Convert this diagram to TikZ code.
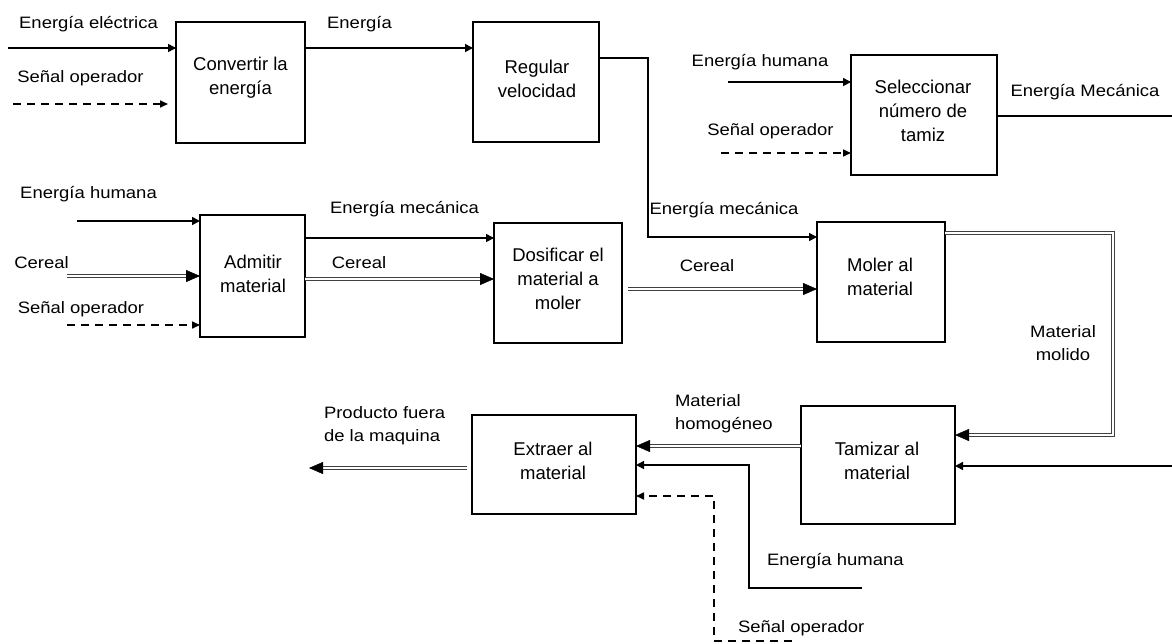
\documentclass[tikz,border=0pt]{standalone}
\usepackage{fontspec}
\setmainfont{Liberation Sans}
\newfontfamily\lblfont{Liberation Sans}[FakeStretch=1.12]
\usetikzlibrary{arrows.meta,decorations.markings}

\begin{document}
\begin{tikzpicture}[x=1pt, y=-1pt,
  every node/.style={inner sep=0pt, outer sep=0pt},
  blk/.style={draw=black, line width=2pt, rectangle},
  blktext/.style={font=\fontsize{18.5}{24}\selectfont, align=center},
  lbl/.style={font=\lblfont\fontsize{16.5}{23}\selectfont, align=center},
  lblL/.style={font=\lblfont\fontsize{16.5}{23}\selectfont, align=left},
  flowline/.style={line width=1.6pt},
  flow/.style={flowline, -{Triangle[length=8pt,width=8pt]}},
  signal/.style={line width=1.6pt, dash pattern=on 8pt off 6pt, -{Triangle[length=8pt,width=7pt]}},
  % material flow: double line with a solid filled head
  mat/.style={draw=black!75, double=white, double distance=1.6pt, line width=1.1pt,
              shorten >=7pt,
              postaction={decorate, decoration={markings,
                mark=at position 1 with {\arrow[black, line width=0.4pt]{Triangle[length=14pt,width=12pt]}}}}}
]
% canvas
\path[fill=white, use as bounding box] (0,0) rectangle (1172,643);

% ---- function blocks ----
\node[blk, minimum width=129pt, minimum height=121pt] (conv) at (240.5,82.5) {};
\node[blktext] (convT) at (240.5,78) {Convertir la\\energía};

\node[blk, minimum width=126pt, minimum height=120pt] (reg) at (536,82) {};
\node[blktext] (regT) at (537,78.5) {Regular\\velocidad};

\node[blk, minimum width=146pt, minimum height=120pt] (sel) at (924,115) {};
\node[blktext] (selT) at (923,110.5) {Seleccionar\\número de\\tamiz};

\node[blk, minimum width=105pt, minimum height=122pt] (adm) at (252.5,276) {};
\node[blktext] (admT) at (253,273.5) {Admitir\\material};

\node[blk, minimum width=128pt, minimum height=120pt] (dos) at (558,283) {};
\node[blktext] (dosT) at (558,279) {Dosificar el\\material a\\moler};

\node[blk, minimum width=128pt, minimum height=120pt] (mol) at (881,282) {};
\node[blktext] (molT) at (880,277) {Moler al\\material};

\node[blk, minimum width=154pt, minimum height=118pt] (tam) at (878,465) {};
\node[blktext] (tamT) at (877,460.5) {Tamizar al\\material};

\node[blk, minimum width=164pt, minimum height=99pt] (ext) at (554,464.5) {};
\node[blktext] (extT) at (553,461) {Extraer al\\material};

% ---- free ends and bend points ----
\coordinate (eIn)   at (8,48);
\coordinate (sIn)   at (13,104);
\coordinate (sEnd)  at (168,104);
\coordinate (rgA)   at (648,58);
\coordinate (rgB)   at (648,237);
\coordinate (hSel)  at (728,82);
\coordinate (sSel)  at (721,153);
\coordinate (meOut) at (1172,116);
\coordinate (tamIn) at (1172,466);
\coordinate (hAdm)  at (77,221);
\coordinate (cAdm)  at (67,276);
\coordinate (sAdm)  at (67,325);
\coordinate (yEm)   at (0,238);
\coordinate (yCe)   at (0,279);
\coordinate (cmA)   at (628,289);
\coordinate (mmA)   at (1113,233);
\coordinate (mmB)   at (1113,435);
\coordinate (yMh)   at (0,446);
\coordinate (ehA)   at (862,588);
\coordinate (ehB)   at (749,588);
\coordinate (ehC)   at (749,465);
\coordinate (sbA)   at (792,641);
\coordinate (sbB)   at (714,641);
\coordinate (sbC)   at (714,496);
\coordinate (pIn)   at (467,468);
\coordinate (pOut)  at (309,468);

% ---- connectors ----
\draw[flow] (eIn) -- (eIn -| conv.west);
\draw[signal] (sIn) -- (sEnd);
\draw[flow] (conv.east |- eIn) -- (reg.west |- eIn);
\draw[flow] (reg.east |- rgA) -- (rgA) -- (rgB) -- (rgB -| mol.west);

\draw[flow] (hSel) -- (hSel -| sel.west);
\draw[signal] (sSel) -- (sSel -| sel.west);
\draw[flowline] (sel.east |- meOut) -- (meOut);
\draw[flow] (tamIn) -- (tamIn -| tam.east);

\draw[flow] (hAdm) -- (hAdm -| adm.west);
\draw[mat] (cAdm) -- (cAdm -| adm.west);
\draw[signal] (sAdm) -- (sAdm -| adm.west);
\draw[flow] (adm.east |- yEm) -- (dos.west |- yEm);
\draw[mat] (adm.east |- yCe) -- (dos.west |- yCe);
\draw[mat] (cmA) -- (cmA -| mol.west);

\draw[mat] (mol.east |- mmA) -- (mmA) -- (mmB) -- (mmB -| tam.east);
\draw[mat] (tam.west |- yMh) -- (ext.east |- yMh);
\draw[flow] (ehA) -- (ehB) -- (ehC) -- (ehC -| ext.east);
\draw[signal] (sbA) -- (sbB) -- (sbC) -- (sbC -| ext.east);
\draw[mat] (pIn) -- (pOut);

% ---- labels ----
\node[lbl, anchor=base] (l1)  at (88.5,28)  {Energía eléctrica};
\node[lbl, anchor=base] (l2)  at (80.5,82)  {Señal operador};
\node[lbl, anchor=base] (l3)  at (359.5,28) {Energía};
\node[lbl, anchor=base] (l4)  at (760,66)   {Energía humana};
\node[lbl, anchor=base] (l5)  at (770.5,135){Señal operador};
\node[lbl, anchor=base] (l6)  at (1085,96)  {Energía Mecánica};
\node[lbl, anchor=base] (l7)  at (88.5,198) {Energía humana};
\node[lbl, anchor=base] (l8)  at (41.5,268) {Cereal};
\node[lbl, anchor=base] (l9)  at (81,313)   {Señal operador};
\node[lbl, anchor=base] (l10) at (404.5,213){Energía mecánica};
\node[lbl, anchor=base] (l11) at (359,268)  {Cereal};
\node[lbl, anchor=base] (l12) at (724,214)  {Energía mecánica};
\node[lbl, anchor=base] (l13) at (707,271)  {Cereal};
\node[lbl] (l14) at (1063,343.5) {Material\\molido};
\node[lblL, anchor=west] (l15) at (675,414) {Material\\homogéneo};
\node[lblL, anchor=west] (l16) at (324,426) {Producto fuera\\de la maquina};
\node[lbl, anchor=base west] (l17) at (767,565) {Energía humana};
\node[lbl, anchor=base west] (l18) at (738,632) {Señal operador};
\end{tikzpicture}
\end{document}
